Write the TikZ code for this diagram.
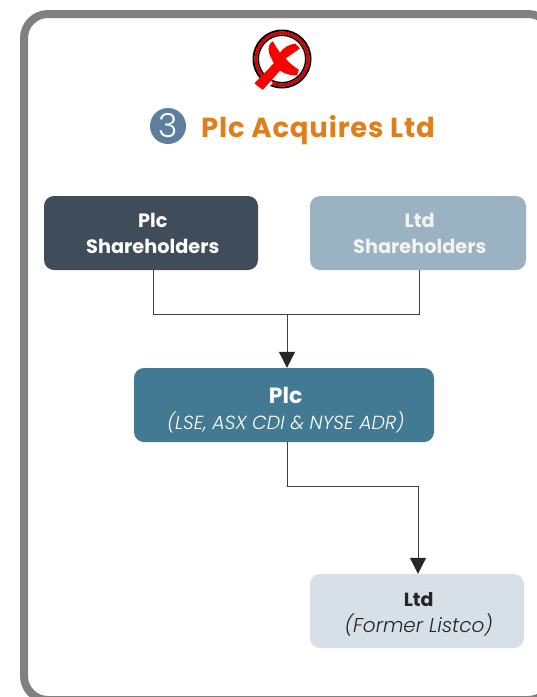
\documentclass[tikz,border=0pt]{standalone}
\usepackage{fontspec}
\setmainfont{Poppins}
\newfontfamily\lightfont{Poppins Light}
\usetikzlibrary{arrows.meta}
\definecolor{frameC}{HTML}{808080}
\definecolor{darkC}{HTML}{3F4C59}
\definecolor{paleC}{HTML}{9BB2C2}
\definecolor{tealC}{HTML}{417A92}
\definecolor{lightC}{HTML}{D7DFE7}
\definecolor{orangeC}{HTML}{DE7F1B}
\definecolor{numC}{HTML}{5B7F9C}
\definecolor{inkC}{HTML}{262626}
\definecolor{lineC}{HTML}{404040}
\definecolor{paperC}{HTML}{F1F4EF}
\tikzset{
  box/.style={rounded corners=10pt, minimum height=74pt, align=center, inner sep=0pt},
  heavy/.style={font=\fontsize{19.3}{26}\selectfont},
  link/.style={draw=lineC, line width=1pt},
  tip/.style={-{Triangle[length=16pt,width=16pt,color=inkC]}},
}
\newcommand{\nudge}{\hspace*{3.5pt}}
\begin{document}
\begin{tikzpicture}[x=1pt,y=-1pt]
\useasboundingbox (0,0) rectangle (537,697);
\clip (0,0) rectangle (537,697);
\draw[frameC, line width=8pt, rounded corners=24pt] (24,14) rectangle (552,700);
% logo
\draw[black, line width=2pt] (282,59) circle (28.5);
\draw[red!85!black, line width=3pt] (282,59) circle (26);
\draw[black, line width=1.4pt] (282,59) circle (23.7);
\begin{scope}[shift={(140,20)},scale=1/3]
\fill[white] (335,188) -- (368,218) -- (398,190) -- (385,165) -- cycle;
\filldraw[red, line width=0.8pt, line join=round] (398,65) .. controls (385,75) and (383,90) .. (393,110) -- (403,130) -- (345,190) -- (368,208) -- (420,150)
  .. controls (435,162) and (455,165) .. (470,165) -- (475,150) .. controls (460,140) and (445,128) .. (435,115) -- (478,85) -- (465,72)
  .. controls (445,75) and (430,85) .. (420,100) .. controls (412,90) and (405,78) .. (398,65) -- cycle;
\end{scope}
% heading
\node[circle, fill=numC, minimum size=36pt, inner sep=0pt, text=white, font=\lightfont\fontsize{33}{33}\selectfont] (num) at (168,126) {3};
\node[anchor=west, inner sep=0pt, text=orangeC, font=\bfseries\fontsize{27.5}{27.5}\selectfont] (title) at (201,130) {\addfontfeatures{LetterSpace=3}Plc Acquires Ltd};
% boxes
\node[box, heavy, fill=darkC, text=white, minimum width=214pt] (ps) at (151,233) {\rule{0pt}{16pt}\nudge\bfseries Plc\\\nudge\bfseries Shareholders};
\node[box, heavy, fill=paleC, text=paperC, minimum width=216pt] (ls) at (418,233) {\rule{0pt}{16pt}\nudge\bfseries Ltd\\\nudge\bfseries Shareholders};
\node[box, fill=tealC, text=white, minimum width=300pt, font=\fontsize{19}{26}\selectfont] (plc) at (284,405) {\rule{0pt}{26pt}\nudge{\bfseries\fontsize{22}{26}\selectfont Plc}\\\nudge{\lightfont\itshape (LSE, ASX CDI \& NYSE ADR)}};
\node[box, fill=lightC, text=inkC, minimum width=214pt, font=\fontsize{20}{26}\selectfont] (ltd) at (417,611) {\rule{0pt}{20pt}\nudge{\bfseries\fontsize{19}{26}\selectfont Ltd}\\\nudge{\lightfont\itshape (Former Listco)}};
% connectors
\coordinate (join) at (287,314);
\coordinate (mid) at (287,486);
\draw[link] ([xshift=2pt]ps.south) |- (join);
\draw[link] ([xshift=1pt]ls.south) |- (join);
\draw[link, tip] (join) -- (join |- plc.north);
\draw[link] (mid |- plc.south) -- (mid);
\draw[link, tip] (mid) -| ([xshift=1pt]ltd.north);
\end{tikzpicture}
\end{document}
